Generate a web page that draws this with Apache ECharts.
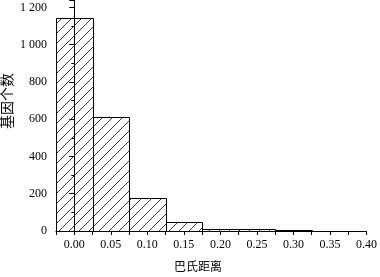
<!DOCTYPE html>
<html><head><meta charset="utf-8">
<script src="https://cdn.jsdelivr.net/npm/echarts@6/dist/echarts.min.js"></script>
<style>html,body{margin:0;padding:0;background:#fff}#c{width:380px;height:277px}</style>
</head><body><div id="c"></div>
<script>
const binCenters = [0.00, 0.05, 0.10, 0.15, 0.20, 0.25, 0.30];
const geneCounts = [1145, 610, 175, 50, 10, 10, 5];
const binWidth = 0.05;
const xTickLabels = ['0.00','0.05','0.10','0.15','0.20','0.25','0.30','0.35','0.40'];
const yTickLabels = ['0','200','400','600','800','1 000','1 200'];
const xAxisName = '巴氏距离';
const yAxisName = '基因个数';

function makeHatch(){
  const c = document.createElement('canvas');
  c.width = 10; c.height = 10;
  const g = c.getContext('2d');
  g.strokeStyle = '#222'; g.lineWidth = 0.9;
  g.beginPath();
  g.moveTo(-1,11); g.lineTo(11,-1);
  g.moveTo(-1,1); g.lineTo(1,-1);
  g.moveTo(9,11); g.lineTo(11,9);
  g.stroke();
  return c;
}
const hatch = makeHatch();
const serif = '"Liberation Serif","Times New Roman",serif';
const cjk = '"Noto Sans CJK SC",sans-serif';

const chart = echarts.init(document.getElementById('c'));
chart.setOption({
  animation:false,
  backgroundColor:'#fff',
  grid:{left:56, right:8, top:0, bottom:46},
  xAxis:{
    type:'value', min:-0.025, max:0.40, interval:0.025,
    axisLine:{lineStyle:{color:'#000', width:1}},
    axisTick:{show:true, length:4, lineStyle:{color:'#000'}},
    splitLine:{show:false},
    axisLabel:{color:'#000', fontFamily:serif, fontSize:12, margin:8,
      formatter:function(v){
        const k = Math.round(v*1000)/50;
        if (Math.abs(k-Math.round(k))<1e-6 && k>=0 && k<xTickLabels.length) return xTickLabels[Math.round(k)];
        return '';
      }}
  },
  yAxis:{
    type:'value', min:0, max:1240, interval:200,
    axisLine:{show:true, lineStyle:{color:'#000', width:1}},
    axisTick:{show:true, length:5, lineStyle:{color:'#000'}},
    minorTick:{show:true, splitNumber:2, length:3, lineStyle:{color:'#000'}},
    splitLine:{show:false},
    axisLabel:{color:'#000', fontFamily:serif, fontSize:12, margin:9,
      formatter:function(v){
        const k = v/200;
        if (Number.isInteger(k) && k<yTickLabels.length) return yTickLabels[k];
        return '';
      }}
  },
  graphic:[
    {type:'text', x:7, y:101, rotation:Math.PI/2,
      style:{text:yAxisName, font:'14px '+cjk, fill:'#000', align:'center', verticalAlign:'middle'}},
    {type:'text', x:198, y:266,
      style:{text:xAxisName, font:'12px '+cjk, fill:'#000', align:'center', verticalAlign:'middle'}}
  ],
  series:[{
    type:'custom',
    data: binCenters.map((x,i)=>[x, geneCounts[i]]),
    renderItem:function(params, api){
      const x = api.value(0), y = api.value(1);
      const p1 = api.coord([x-binWidth/2, y]);
      const p2 = api.coord([x+binWidth/2, 0]);
      const x0 = Math.round(p1[0])+0.5, x1 = Math.round(p2[0])+0.5;
      const y0 = Math.round(p1[1])+0.5, y1 = Math.round(p2[1])+0.5;
      return {type:'rect', shape:{x:x0, y:y0, width:x1-x0, height:y1-y0},
        style:{fill:{image:hatch, repeat:'repeat'}, stroke:'#000', lineWidth:1}};
    }
  }]
});
</script></body></html>
